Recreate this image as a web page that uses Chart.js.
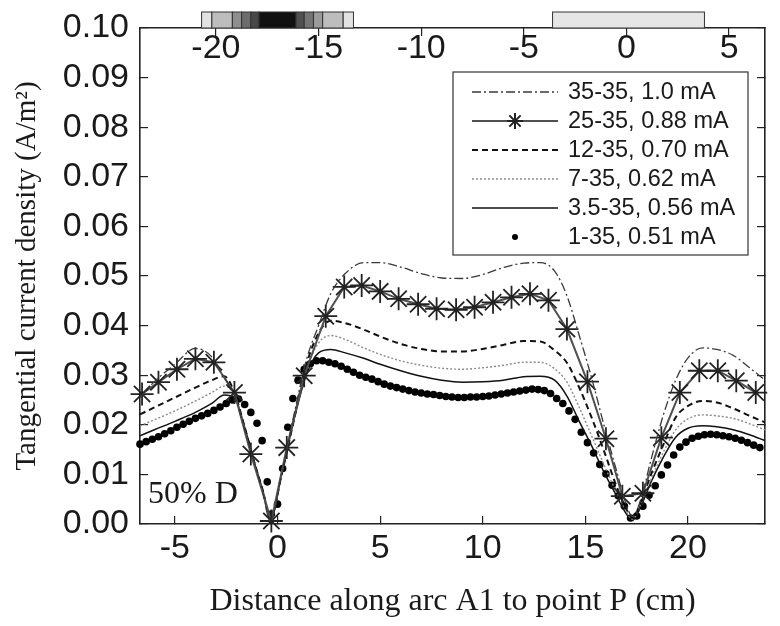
<!DOCTYPE html>
<html>
<head>
<meta charset="utf-8">
<script src="https://cdn.jsdelivr.net/npm/chart.js@4.4.0/dist/chart.umd.min.js"></script>
<style>
  html, body { margin: 0; padding: 0; background: #fff; }
</style>
</head>
<body>
<canvas id="myChart" width="780" height="626"></canvas>
<script>
// series names, in legend order
const seriesNames = ['35-35, 1.0 mA', '25-35, 0.88 mA', '12-35, 0.70 mA', '7-35, 0.62 mA', '3.5-35, 0.56 mA', '1-35, 0.51 mA'];

// x positions (cm) shared by the smooth curves
const xSmooth = [-6.7, -6, -5, -4, -3.2, -2.6, -2.1, -1.6, -1.1, -0.7, -0.35, 0.2, 0.8, 1.4, 2, 2.6, 3.3, 4.2, 5, 6,
  7, 8, 9, 10, 11, 12, 12.8, 13.5, 14.1, 14.7, 15.3, 15.9, 16.5, 17, 17.3, 17.7, 18.2, 18.8, 19.4, 20,
  20.7, 21.4, 22.2, 23, 23.75];

const dens35 = [0.0255, 0.0287, 0.0322, 0.0354, 0.0337, 0.0295, 0.026, 0.019, 0.012, 0.006, 0.0005, 0.010, 0.022, 0.033, 0.040, 0.0465, 0.0505, 0.0527, 0.0527, 0.0518,
  0.0505, 0.0496, 0.0495, 0.0503, 0.0517, 0.0526, 0.0527, 0.051, 0.046, 0.038, 0.0295, 0.02, 0.011, 0.0038, 0.0015, 0.005, 0.013, 0.022, 0.029, 0.0335,
  0.0355, 0.0352, 0.034, 0.0315, 0.029];
const dens12 = [0.0221, 0.0235, 0.0255, 0.0275, 0.029, 0.0298, 0.0265, 0.0195, 0.012, 0.0065, 0.001, 0.010, 0.021, 0.032, 0.0385, 0.041, 0.0405, 0.0392, 0.0378, 0.0363,
  0.0353, 0.0348, 0.0348, 0.0353, 0.0361, 0.0369, 0.0368, 0.035, 0.0325, 0.0275, 0.0215, 0.0148, 0.0078, 0.003, 0.0012, 0.0045, 0.010, 0.016, 0.0215, 0.0238,
  0.0248, 0.0245, 0.0233, 0.0218, 0.0205];
const dens7 = [0.0198, 0.021, 0.0228, 0.0248, 0.0265, 0.0278, 0.026, 0.0195, 0.012, 0.0065, 0.001, 0.010, 0.021, 0.031, 0.0365, 0.038, 0.0372, 0.0355, 0.0342, 0.0329,
  0.032, 0.0314, 0.0312, 0.0315, 0.032, 0.0326, 0.0326, 0.0313, 0.0286, 0.0235, 0.0178, 0.012, 0.0065, 0.0025, 0.001, 0.004, 0.009, 0.0145, 0.019, 0.0212,
  0.022, 0.0218, 0.0213, 0.0202, 0.019];
const dens3_5 = [0.0178, 0.019, 0.0207, 0.0225, 0.0243, 0.026, 0.0255, 0.0195, 0.012, 0.0065, 0.001, 0.010, 0.021, 0.030, 0.0345, 0.0352, 0.0345, 0.0334, 0.0322, 0.0309,
  0.0298, 0.029, 0.0286, 0.0287, 0.029, 0.0297, 0.0298, 0.029, 0.0258, 0.0207, 0.0158, 0.0105, 0.0058, 0.002, 0.0008, 0.0035, 0.0085, 0.0135, 0.0175, 0.0193,
  0.0198, 0.0196, 0.019, 0.018, 0.0168];

// 25-35 series, one value per asterisk
const xStar = [-6.6, -5.8, -4.9, -4.0, -3.1, -2.1, -1.3, -0.3, 0.45, 1.3, 2.35, 3.25, 4.1, 5.0, 5.9, 6.85, 7.75,
  8.7, 9.6, 10.5, 11.4, 12.3, 13.2, 14.1, 15.1, 16.0, 16.8, 17.8, 18.7, 19.6, 20.55, 21.45, 22.35, 23.3];
const dens25 = [0.0262, 0.0286, 0.0312, 0.0333, 0.0326, 0.0265, 0.0141, 0.0006, 0.0154, 0.0299, 0.0419, 0.0478, 0.0481, 0.0469, 0.0454, 0.0443, 0.0434,
  0.0432, 0.0437, 0.0447, 0.0457, 0.0464, 0.0451, 0.0393, 0.0287, 0.0172, 0.0056, 0.0062, 0.0174, 0.0265, 0.0309, 0.0309, 0.0289, 0.0265];

// 1-35 series, one value per dot
const xDots = [-6.7, -6.4, -6.1, -5.8, -5.5, -5.2, -4.9, -4.6, -4.3, -4.0,
  -3.7, -3.4, -3.1, -2.8, -2.5, -2.2, -1.9, -1.6, -1.3, -1.0,
  -0.75, -0.5, -0.3, 0.0, 0.25, 0.5, 0.75, 1.0, 1.3, 1.6,
  1.9, 2.2, 2.5, 2.8, 3.1, 3.4, 3.7, 4.0, 4.3, 4.6,
  4.9, 5.2, 5.5, 5.8, 6.1, 6.4, 6.7, 7.0, 7.3, 7.6,
  7.9, 8.2, 8.5, 8.8, 9.1, 9.4, 9.7, 10.0, 10.3, 10.6,
  10.9, 11.2, 11.5, 11.8, 12.1, 12.4, 12.7, 13.0, 13.3, 13.6,
  13.9, 14.2, 14.5, 14.8, 15.1, 15.4, 15.7, 16.0, 16.3, 16.6,
  16.9, 17.2, 17.5, 17.8, 18.1, 18.4, 18.7, 19.0, 19.3, 19.6,
  19.9, 20.2, 20.5, 20.8, 21.1, 21.4, 21.7, 22.0, 22.3, 22.6,
  22.9, 23.2, 23.5];
const dens1 = [0.0161, 0.0166, 0.0171, 0.0176, 0.0182, 0.0188, 0.0195, 0.0201, 0.0207, 0.0213,
  0.0218, 0.0223, 0.0229, 0.0236, 0.0243, 0.025, 0.0252, 0.0241, 0.0225, 0.0203,
  0.0168, 0.0085, 0.002, 0.004, 0.0112, 0.0195, 0.0253, 0.029, 0.0312, 0.0323,
  0.0329, 0.0329, 0.0326, 0.0323, 0.0318, 0.0312, 0.0306, 0.03, 0.0296, 0.0292,
  0.0287, 0.0282, 0.0278, 0.0275, 0.0272, 0.0269, 0.0266, 0.0264, 0.0262, 0.0261,
  0.0259, 0.0257, 0.0256, 0.0255, 0.0255, 0.0256, 0.0256, 0.0257, 0.0258, 0.026,
  0.0262, 0.0264, 0.0266, 0.0268, 0.027, 0.0272, 0.0271, 0.0269, 0.0263, 0.0253,
  0.0243, 0.0228, 0.0211, 0.0185, 0.0164, 0.0143, 0.012, 0.0101, 0.0078, 0.0057,
  0.0036, 0.0012, 0.0016, 0.0036, 0.0058, 0.0077, 0.0099, 0.0119, 0.0139, 0.0155,
  0.0165, 0.0173, 0.0177, 0.018, 0.0181, 0.018, 0.0178, 0.0176, 0.0173, 0.0169,
  0.0164, 0.0159, 0.0154];

// axes
const xMin = -6.7, xMax = 23.75;
const topShift = 17;   // top axis value = bottom value - 17
const xTicks = [-5, 0, 5, 10, 15, 20];
const topTicks = [-20, -15, -10, -5, 0, 5];
const yTicks = [0, 0.01, 0.02, 0.03, 0.04, 0.05, 0.06, 0.07, 0.08, 0.09, 0.1];

// electrode strips drawn above the top axis (top-axis units)
const stripEdges = [-20.7, -20.2, -19.2, -18.75, -18.3, -17.9, -16.1, -15.7, -15.25, -14.8, -13.8, -13.3];
const stripShades = ['#e2e2e2', '#bdbdbd', '#8e8e8e', '#6c6c6c', '#484848', '#111111', '#505050', '#747474', '#9a9a9a', '#bdbdbd', '#e2e2e2'];
const padEdges = [-3.6, 3.8];

function pairs(xs, ys) {
  return xs.map((x, i) => ({x: x, y: ys[i]}));
}

const tickFont = {family: '"Liberation Sans", Arial, sans-serif', size: 34, lineHeight: 1.2};
const ink = '#1a1a1a';

// pin the plot frame, drop the label overhang padding
function fixBox(size) {
  return s => {
    if (s.isHorizontal()) s.height = size; else s.width = size;
    s.paddingTop = 0; s.paddingBottom = 0; s.paddingLeft = 0; s.paddingRight = 0;
  };
}

const extras = {
  id: 'extras',
  afterDraw(chart) {
    const ctx = chart.ctx;
    const top = chart.scales.x2;
    const area = chart.chartArea;
    ctx.save();

    // strips above the top axis
    ctx.lineWidth = 1;
    ctx.strokeStyle = '#333';
    for (let i = 0; i < stripShades.length; i++) {
      const a = top.getPixelForValue(stripEdges[i]);
      const b = top.getPixelForValue(stripEdges[i + 1]);
      ctx.fillStyle = stripShades[i];
      ctx.fillRect(a, area.top - 16, b - a, 16);
      ctx.strokeRect(a, area.top - 16, b - a, 16);
    }
    const pa = top.getPixelForValue(padEdges[0]);
    const pb = top.getPixelForValue(padEdges[1]);
    ctx.fillStyle = '#e6e6e6';
    ctx.fillRect(pa, area.top - 16, pb - pa, 16);
    ctx.strokeRect(pa, area.top - 16, pb - pa, 16);

    // legend
    const lx = 453, ly = 72, lw = 295, lh = 183;
    ctx.fillStyle = '#fff';
    ctx.fillRect(lx, ly, lw, lh);
    ctx.strokeStyle = '#333';
    ctx.lineWidth = 1.2;
    ctx.strokeRect(lx, ly, lw, lh);
    ctx.font = '23.5px "Liberation Sans", Arial, sans-serif';
    ctx.textBaseline = 'middle';
    ctx.textAlign = 'left';
    chart.data.datasets.forEach((ds, i) => {
      const y = ly + 20 + i * 29;
      if (ds.showLine !== false) {
        ctx.setLineDash(ds.borderDash || []);
        ctx.strokeStyle = ds.borderColor;
        ctx.lineWidth = ds.borderWidth;
        ctx.beginPath();
        ctx.moveTo(lx + 19, y);
        ctx.lineTo(lx + 105, y);
        ctx.stroke();
        ctx.setLineDash([]);
      }
      if (ds.pointStyle === 'star') {
        ctx.strokeStyle = ds.pointBorderColor;
        Chart.helpers.drawPoint(ctx, {pointStyle: 'star', radius: 8, borderWidth: 1.5, rotation: 0}, lx + 62, y);
      } else if (ds.showLine === false) {
        ctx.fillStyle = ds.pointBackgroundColor;
        ctx.beginPath();
        ctx.arc(lx + 62, y, 3, 0, Math.PI * 2);
        ctx.fill();
      }
      ctx.fillStyle = ink;
      ctx.fillText(ds.label, lx + 115, y + 1);
    });

    // panel tag
    ctx.font = '32px "Liberation Serif", "Times New Roman", serif';
    ctx.fillStyle = ink;
    ctx.fillText('50% D', area.left + 8, 495);
    ctx.restore();
  }
};

var ctx = document.getElementById('myChart').getContext('2d');
var chart = new Chart(ctx, {
  type: 'line',
  data: {
    datasets: [{
      label: seriesNames[0],
      data: pairs(xSmooth, dens35),
      borderColor: '#3a3a3a',
      borderWidth: 1.3,
      borderDash: [9, 3, 2, 3],
      pointRadius: 0,
      cubicInterpolationMode: 'monotone'
    }, {
      label: seriesNames[1],
      data: pairs(xStar, dens25),
      borderColor: '#505050',
      borderWidth: 2,
      pointStyle: 'star',
      pointRadius: 11.5,
      pointBorderWidth: 1.8,
      pointBorderColor: '#222',
      pointBackgroundColor: '#222',
      tension: 0,
      clip: false
    }, {
      label: seriesNames[2],
      data: pairs(xSmooth, dens12),
      borderColor: '#111',
      borderWidth: 2,
      borderDash: [6, 4],
      pointRadius: 0,
      cubicInterpolationMode: 'monotone'
    }, {
      label: seriesNames[3],
      data: pairs(xSmooth, dens7),
      borderColor: '#8a8a8a',
      borderWidth: 1.4,
      borderDash: [2, 2],
      pointRadius: 0,
      cubicInterpolationMode: 'monotone'
    }, {
      label: seriesNames[4],
      data: pairs(xSmooth, dens3_5),
      borderColor: '#111',
      borderWidth: 1.5,
      pointRadius: 0,
      cubicInterpolationMode: 'monotone'
    }, {
      label: seriesNames[5],
      data: pairs(xDots, dens1),
      showLine: false,
      pointRadius: 3.8,
      pointBorderWidth: 0,
      pointBackgroundColor: '#000',
      clip: false
    }]
  },
  options: {
    responsive: false,
    animation: false,
    layout: {padding: 0},
    plugins: {legend: {display: false}, tooltip: {enabled: false}},
    scales: {
      x: {
        type: 'linear', position: 'bottom', min: xMin, max: xMax,
        afterBuildTicks: s => { s.ticks = xTicks.map(v => ({value: v})); },
        afterFit: fixBox(102),
        grid: {drawOnChartArea: false, tickLength: -8, color: '#222', lineWidth: 1.2},
        border: {color: '#222', width: 1.6},
        ticks: {font: tickFont, color: ink, padding: 12, maxRotation: 0, autoSkip: false},
        title: {display: true, text: 'Distance along arc A1 to point P (cm)', color: ink,
          font: {family: '"Liberation Serif", "Times New Roman", serif', size: 32, lineHeight: 1.2}, padding: {top: 0, bottom: 5}}
      },
      x2: {
        type: 'linear', position: 'top', min: xMin - topShift, max: xMax - topShift,
        afterBuildTicks: s => { s.ticks = topTicks.map(v => ({value: v})); },
        afterFit: fixBox(28),
        grid: {drawOnChartArea: false, tickLength: -8, color: '#222', lineWidth: 1.2},
        border: {color: '#222', width: 1.6},
        ticks: {font: tickFont, color: ink, mirror: true, padding: 0, maxRotation: 0, autoSkip: false}
      },
      y: {
        type: 'linear', position: 'left', min: 0, max: 0.1,
        afterBuildTicks: s => { s.ticks = yTicks.map(v => ({value: v})); },
        afterFit: fixBox(140),
        grid: {drawOnChartArea: false, tickLength: -8, color: '#222', lineWidth: 1.2},
        border: {color: '#222', width: 1.6},
        ticks: {font: tickFont, color: ink, padding: 19, callback: v => v.toFixed(2)},
        title: {display: true, text: 'Tangential current density (A/m\u00B2)', color: ink,
          font: {family: '"Liberation Serif", "Times New Roman", serif', size: 29, lineHeight: 1.2}, padding: {top: 10, bottom: 0}}
      },
      y2: {
        type: 'linear', position: 'right', min: 0, max: 0.1,
        afterBuildTicks: s => { s.ticks = yTicks.map(v => ({value: v})); },
        afterFit: fixBox(15),
        grid: {drawOnChartArea: false, tickLength: -8, color: '#222', lineWidth: 1.2},
        border: {color: '#222', width: 1.6},
        ticks: {display: false}
      }
    }
  },
  plugins: [extras]
});
</script>
</body>
</html>
